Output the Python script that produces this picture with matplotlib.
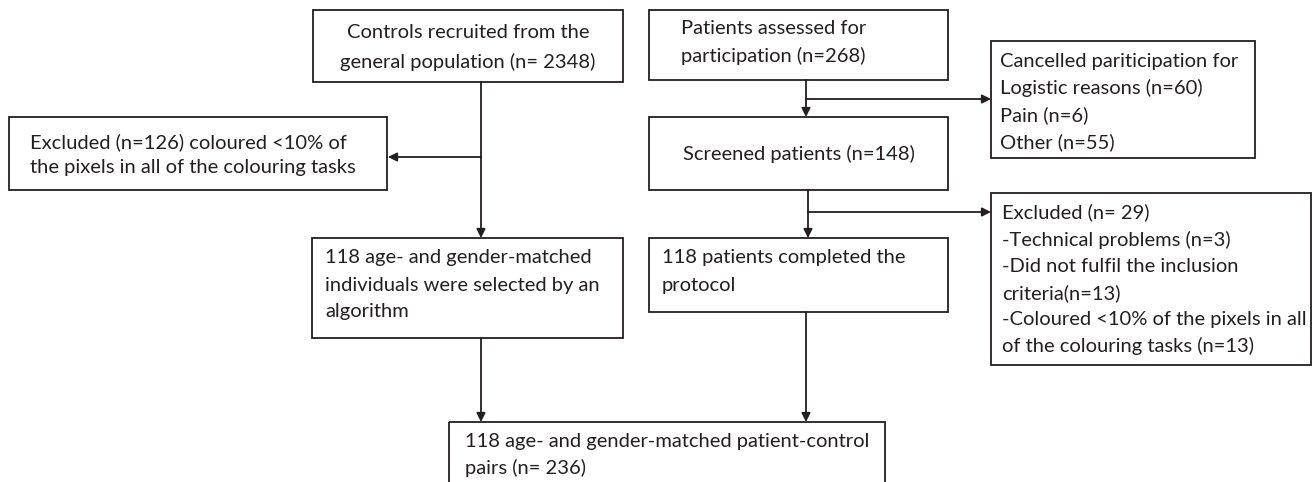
import matplotlib.pyplot as plt
from matplotlib.patches import Rectangle

plt.rcParams['font.family'] = ['Lato', 'DejaVu Sans']

# box texts
controls_txt = ['Controls recruited from the', 'general population (n= 2348)']
patients_txt = ['Patients assessed for', 'participation (n=268)']
cancelled_txt = ['Cancelled pariticipation for', 'Logistic reasons (n=60)', 'Pain (n=6)', 'Other (n=55)']
excl_ctrl_txt = ['Excluded (n=126) coloured <10% of', 'the pixels in all of the colouring tasks']
screened_txt = ['Screened patients (n=148)']
excl_pat_txt = ['Excluded (n= 29)', '-Technical problems (n=3)', '-Did not fulfil the inclusion',
                'criteria(n=13)', '-Coloured <10% of the pixels in all', 'of the colouring tasks (n=13)']
matched_txt = ['118 age- and gender-matched', 'individuals were selected by an', 'algorithm']
completed_txt = ['118 patients completed the', 'protocol']
pairs_txt = ['118 age- and gender-matched patient-control', 'pairs (n= 236)']

LC = '#231f20'
FS = 14.5

fig = plt.figure(figsize=(13.14, 4.82), dpi=100)
ax = fig.add_axes([0, 0, 1, 1])
ax.set_xlim(0, 1314)
ax.set_ylim(482, 0)
ax.axis('off')


def box(x0, x1, y0, y1, lines, ys, pad=12, center=False):
    ax.add_patch(Rectangle((x0, y0), x1 - x0, y1 - y0, fill=False, ec=LC, lw=1.3))
    for t, y in zip(lines, ys):
        if center:
            ax.text((x0 + x1) / 2, y, t, ha='center', va='center', fontsize=FS, color=LC)
        else:
            ax.text(x0 + pad, y, t, ha='left', va='center', fontsize=FS, color=LC)


def arrow(x0, y0, x1, y1):
    ax.annotate('', xy=(x1, y1), xytext=(x0, y0),
                arrowprops=dict(arrowstyle='-|>', color=LC, lw=1.3, mutation_scale=13,
                                shrinkA=0, shrinkB=0))


box(313, 623, 10, 82, controls_txt, [33, 62], center=True)
box(649, 948, 10, 80, patients_txt, [29, 56], pad=32)
box(991, 1255, 41, 158, cancelled_txt, [62, 88, 115, 142], pad=9)
box(9, 387, 117, 190, excl_ctrl_txt, [142, 168], pad=21)
box(649, 948, 117, 190, screened_txt, [154], center=True)
box(991, 1311, 193, 365, excl_pat_txt, [212, 240, 266, 293, 319, 346], pad=11)
box(312, 623, 238, 338, matched_txt, [258, 285, 312], pad=13)
box(649, 948, 238, 312, completed_txt, [258, 285], pad=13)
box(449, 885, 422, 495, pairs_txt, [442, 468], pad=16)

# control side
ax.plot([481, 481], [82, 157], color=LC, lw=1.3)
arrow(481, 157, 481, 238)
arrow(481, 157, 388, 157)
arrow(481, 338, 481, 422)

# patient side
ax.plot([806, 806], [80, 99], color=LC, lw=1.3)
arrow(806, 99, 806, 117)
arrow(806, 99, 991, 99)
ax.plot([808, 808], [190, 212], color=LC, lw=1.3)
arrow(808, 212, 808, 238)
arrow(808, 212, 991, 212)
arrow(806, 312, 806, 422)

fig.savefig('out.png', dpi=100)
